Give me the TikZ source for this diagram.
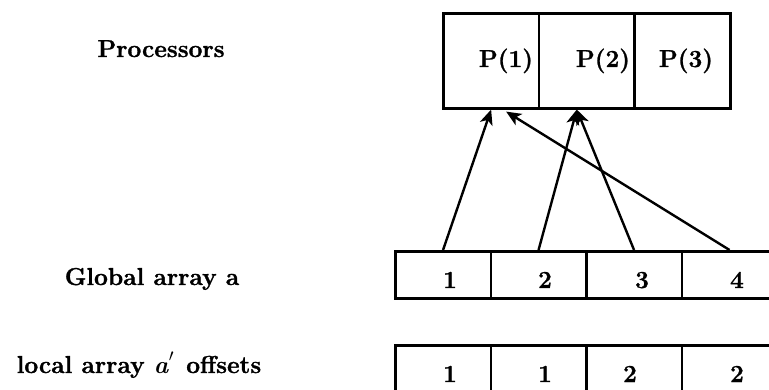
\documentclass[tikz,border=0pt]{standalone}
\usepackage{fontspec}
\setmainfont{Latin Modern Roman}[BoldFeatures={FakeBold=1.2}]
\usetikzlibrary{arrows.meta,calc}
\tikzset{
  cell/.style={draw, line width=2.6pt, minimum width=95.5pt, minimum height=47pt, inner sep=0pt, anchor=north west},
  pcell/.style={draw, line width=2.6pt, minimum width=95.67pt, minimum height=95pt, inner sep=0pt, anchor=north west},
  txt/.style={inner sep=0pt, anchor=base, font=\bfseries\fontsize{24.5}{28}\selectfont},
  arr/.style={line width=2.4pt, -{Stealth[length=15pt,width=13pt,inset=4pt]}}
}
\begin{document}
\begin{tikzpicture}[x=1pt,y=-1pt]
\useasboundingbox (0,0) rectangle (769,390);
% processors
\node[pcell] (p1) at (442,12) {};
\node[pcell] (p2) at (537.67,12) {};
\node[pcell] (p3) at (633.33,12) {};
\node[txt] (tp1) at (506,67) {P(1)};
\node[txt] (tp2) at (603,67) {P(2)};
\node[txt] (tp3) at (686,67) {P(3)};
% global array
\node[cell] (g1) at (394,250) {};
\node[cell] (g2) at (489.5,250) {};
\node[cell] (g3) at (585,250) {};
\node[cell] (g4) at (680.5,250) {};
\node[txt] (tg1) at (450,288) {1};
\node[txt] (tg2) at (545,288) {2};
\node[txt] (tg3) at (642,288) {3};
\node[txt] (tg4) at (737,288) {4};
% local array
\node[cell] (l1) at (394,344) {};
\node[cell] (l2) at (489.5,344) {};
\node[cell] (l3) at (585,344) {};
\node[cell] (l4) at (680.5,344) {};
\node[txt] (tl1) at (450,382) {1};
\node[txt] (tl2) at (545,382) {1};
\node[txt] (tl3) at (630,382) {2};
\node[txt] (tl4) at (737,382) {2};
% labels
\node[txt] (lp) at (161,57) {Processors};
\node[txt] (lg) at (152,285) {Global array a};
\node[txt] (ll) at (139,373) {local array \textit{a}\raisebox{2pt}{$^{\prime}$}\hspace{3pt} offsets};
% arrows
\draw[arr] (g1.north) -- (p1.south);
\draw[arr] (g2.north) -- ($(p2.south)+(-10,0)$);
\draw[arr] (g3.north) -- ($(p2.south)+(-10,0)$);
\draw[arr] (g4.north) -- ($(p1.south)+(15,2)$);
\end{tikzpicture}
\end{document}
